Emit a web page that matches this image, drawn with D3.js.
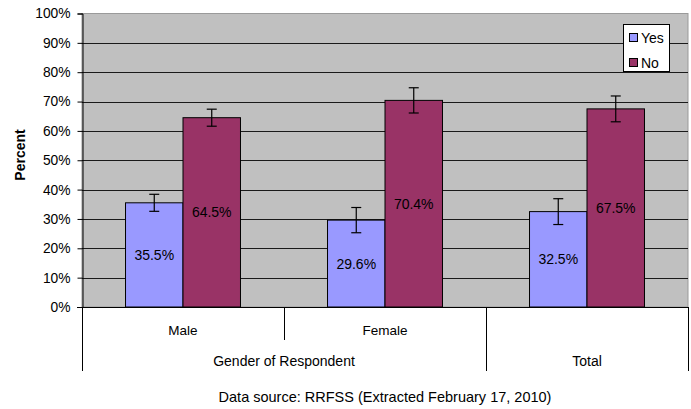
<!DOCTYPE html>
<html><head><meta charset="utf-8">
<script src="https://cdn.jsdelivr.net/npm/d3@7"></script>
<style>body{margin:0;background:#fff}svg{display:block;font-family:"Liberation Sans",Arial,sans-serif}</style>
</head><body><svg id="c" width="691" height="409"></svg>
<script>
const categories = ["Male", "Female", "Total"];
const seriesNames = ["Yes", "No"];
const yesValues = [35.5, 29.6, 32.5];
const noValues = [64.5, 70.4, 67.5];
const yesErrors = [2.9, 4.3, 4.4];
const noErrors = [2.9, 4.3, 4.4];
const yTicks = [0,10,20,30,40,50,60,70,80,90,100];
const colors = ["#9999FF", "#993366"];

const svg = d3.select("#c");
const L = 82, R = 688, T = 13.5, B = 307;
const x = d3.scaleBand().domain(categories).range([L, R]).paddingInner(0).paddingOuter(0);
const x1 = d3.scaleBand().domain(seriesNames).range([0, x.bandwidth()]).paddingOuter(0.757).paddingInner(0);
const y = d3.scaleLinear().domain([0, 100]).range([B, T]);

svg.append("rect").attr("x", L).attr("y", T).attr("width", R - L).attr("height", B - T)
  .attr("fill", "#C0C0C0").attr("stroke", "#9a9a9a").attr("stroke-width", 1);

// gridlines
svg.append("g").selectAll("line").data(yTicks.filter(d => d > 0 && d < 100)).join("line")
  .attr("x1", L).attr("x2", R).attr("y1", d => Math.round(y(d)) + 0.5).attr("y2", d => Math.round(y(d)) + 0.5)
  .attr("stroke", "#1a1a1a").attr("stroke-width", 1.2);

// y axis
const yAxis = d3.axisLeft(y).tickValues(yTicks).tickFormat(d => d + "%").tickSize(5).tickPadding(7);
const ga = svg.append("g").attr("transform", `translate(${L + 0.5},0)`).call(yAxis);
ga.select(".domain").attr("stroke", "#000");
ga.selectAll(".tick line").attr("stroke", "#000");
ga.selectAll(".tick text").attr("font-size", 13.8).attr("fill", "#000")
  .attr("font-family", "'Liberation Sans', Arial, sans-serif");

const data = categories.map((c, i) => ({ c, vals: [
  { s: "Yes", v: yesValues[i], e: yesErrors[i], col: colors[0] },
  { s: "No", v: noValues[i], e: noErrors[i], col: colors[1] } ] }));

const groups = svg.append("g").selectAll("g").data(data).join("g")
  .attr("transform", d => `translate(${x(d.c)},0)`);
groups.selectAll("rect").data(d => d.vals).join("rect")
  .attr("x", d => x1(d.s)).attr("width", x1.bandwidth())
  .attr("y", d => y(d.v)).attr("height", d => B - y(d.v))
  .attr("fill", d => d.col).attr("stroke", "#000").attr("stroke-width", 1);

groups.selectAll("text.v").data(d => d.vals).join("text").attr("class", "v")
  .attr("x", d => x1(d.s) + x1.bandwidth() / 2).attr("y", d => (y(d.v) + B) / 2)
  .attr("text-anchor", "middle").attr("dominant-baseline", "central")
  .attr("font-size", 14).attr("fill", "#000").text(d => d.v.toFixed(1) + "%");

// error bars
const eb = groups.selectAll("g.e").data(d => d.vals).join("g").attr("class", "e")
  .attr("stroke", "#000").attr("stroke-width", 1.2);
eb.append("line").attr("x1", d => x1(d.s) + x1.bandwidth() / 2).attr("x2", d => x1(d.s) + x1.bandwidth() / 2)
  .attr("y1", d => y(d.v + d.e)).attr("y2", d => y(d.v - d.e));
eb.append("line").attr("x1", d => x1(d.s) + x1.bandwidth() / 2 - 5).attr("x2", d => x1(d.s) + x1.bandwidth() / 2 + 5)
  .attr("y1", d => y(d.v + d.e)).attr("y2", d => y(d.v + d.e));
eb.append("line").attr("x1", d => x1(d.s) + x1.bandwidth() / 2 - 5).attr("x2", d => x1(d.s) + x1.bandwidth() / 2 + 5)
  .attr("y1", d => y(d.v - d.e)).attr("y2", d => y(d.v - d.e));

// x axis (multi-level)
svg.append("line").attr("x1", L - 5).attr("x2", R).attr("y1", B + 0.5).attr("y2", B + 0.5).attr("stroke", "#000");
const dividers = [
  { xv: L, y2: 371 }, { xv: x("Female"), y2: 340 }, { xv: x("Total"), y2: 371 }, { xv: R, y2: 371 }
];
svg.append("g").selectAll("line").data(dividers).join("line")
  .attr("x1", d => Math.round(d.xv) + 0.5).attr("x2", d => Math.round(d.xv) + 0.5)
  .attr("y1", B).attr("y2", d => d.y2).attr("stroke", "#000");
svg.append("g").selectAll("text").data(["Male", "Female"]).join("text")
  .attr("x", d => x(d) + x.bandwidth() / 2).attr("y", 330).attr("text-anchor", "middle")
  .attr("dominant-baseline", "central").attr("font-size", 13.5).text(d => d);
svg.append("text").attr("x", (x("Male") + x("Female") + x.bandwidth()) / 2).attr("y", 361)
  .attr("text-anchor", "middle").attr("dominant-baseline", "central").attr("font-size", 14).text("Gender of Respondent");
svg.append("text").attr("x", x("Total") + x.bandwidth() / 2).attr("y", 361)
  .attr("text-anchor", "middle").attr("dominant-baseline", "central").attr("font-size", 14).text("Total");

// y title
svg.append("text").attr("transform", "translate(20,155) rotate(-90)").attr("text-anchor", "middle")
  .attr("dominant-baseline", "central").attr("font-size", 14).attr("font-weight", "bold").text("Percent");

// legend
const lg = svg.append("g");
lg.append("rect").attr("x", 623.5).attr("y", 24.5).attr("width", 46).attr("height", 47)
  .attr("fill", "#fff").attr("stroke", "#000");
const li = lg.selectAll("g").data(seriesNames).join("g")
  .attr("transform", (d, i) => `translate(629,${37 + i * 25})`);
li.append("rect").attr("x", 0.5).attr("y", -3.5).attr("width", 8).attr("height", 8)
  .attr("fill", (d, i) => colors[i]).attr("stroke", "#000");
li.append("text").attr("x", 12).attr("y", 1).attr("dominant-baseline", "central")
  .attr("font-size", 14).text(d => d);

// source
svg.append("text").attr("x", 385).attr("y", 397).attr("text-anchor", "middle")
  .attr("dominant-baseline", "central").attr("font-size", 14.5).text("Data source: RRFSS (Extracted February 17, 2010)");
</script></body></html>
